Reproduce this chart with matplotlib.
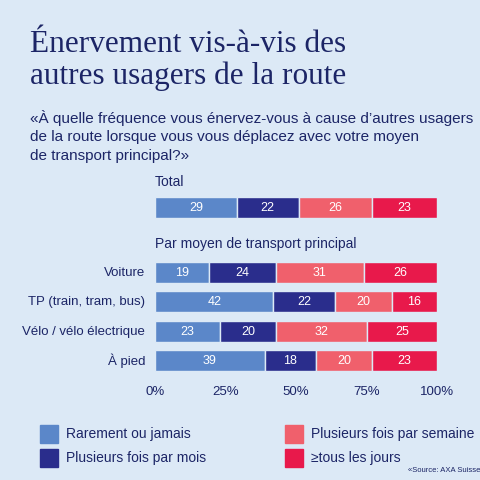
import matplotlib
matplotlib.use("Agg")
import matplotlib.pyplot as plt
import numpy as np

series = ["Rarement ou jamais", "Plusieurs fois par mois", "Plusieurs fois par semaine", "≥tous les jours"]
colors = ["#5b87c9", "#2a2d8c", "#f0606c", "#e8194b"]
total = [29, 22, 26, 23]
cats = ["Voiture", "TP (train, tram, bus)", "Vélo / vélo électrique", "À pied"]
vals = np.array([[19, 24, 31, 26], [42, 22, 20, 16], [23, 20, 32, 25], [39, 18, 20, 23]])
ticks = [0, 25, 50, 75, 100]

bg = "#dce9f6"
navy = "#1c2566"
fig = plt.figure(figsize=(4.8, 4.8), dpi=100, facecolor=bg)
W = H = 480.0
def fx(p): return p / W
def fy(p): return 1 - p / H

fig.text(fx(30), fy(30), "Énervement vis-à-vis des\nautres usagers de la route", family="Liberation Serif",
         fontsize=22.5, color=navy, va="top", linespacing=1.12)
fig.text(fx(30), fy(110), "«À quelle fréquence vous énervez-vous à cause d’autres usagers\nde la route lorsque vous vous déplacez avec votre moyen\nde transport principal?»",
         family="Liberation Sans", fontsize=11, color=navy, va="top", linespacing=1.4)

ax = fig.add_axes([fx(155), fy(380), fx(437) - fx(155), (380 - 170) / H])
ax.set_facecolor("none")
ax.set_xlim(0, 100)
ax.set_ylim(380, 170)
ypos = [273, 302, 332, 361]
rows = [(208, total)] + list(zip(ypos, vals))
for y, v in rows:
    left = 0
    for j, val in enumerate(v):
        ax.barh(y, val, left=left, height=21, color=colors[j], edgecolor=bg, linewidth=1)
        ax.text(left + val / 2, y, str(val), ha="center", va="center", color="white",
                fontsize=9, family="Liberation Sans")
        left += val
for y, c in zip(ypos, cats):
    ax.text(-3.5, y, c, ha="right", va="center", fontsize=9.5, color=navy, family="Liberation Sans")
ax.text(0, 182, "Total", fontsize=10, color=navy, va="center", family="Liberation Sans")
ax.text(0, 244, "Par moyen de transport principal", fontsize=10, color=navy, va="center", family="Liberation Sans")
for s in ax.spines.values():
    s.set_visible(False)
ax.set_yticks([])
ax.set_xticks(ticks)
ax.set_xticklabels([f"{t}%" for t in ticks], fontsize=9.5, color=navy, family="Liberation Sans")
ax.tick_params(axis="x", length=0, pad=4)

pos = [(40, 434), (40, 458), (285, 434), (285, 458)]
for (x, y), lab, c in zip(pos, series, colors):
    fig.patches.append(plt.Rectangle((fx(x), fy(y + 9)), 18 / W, 18 / H, transform=fig.transFigure, color=c))
    fig.text(fx(x + 26), fy(y), lab, fontsize=10, color=navy, va="center", family="Liberation Sans")
fig.text(fx(408), fy(470), "«Source: AXA Suisse", fontsize=5.5, color=navy, va="center", family="Liberation Sans")

fig.savefig("out.png", dpi=100, facecolor=bg)
